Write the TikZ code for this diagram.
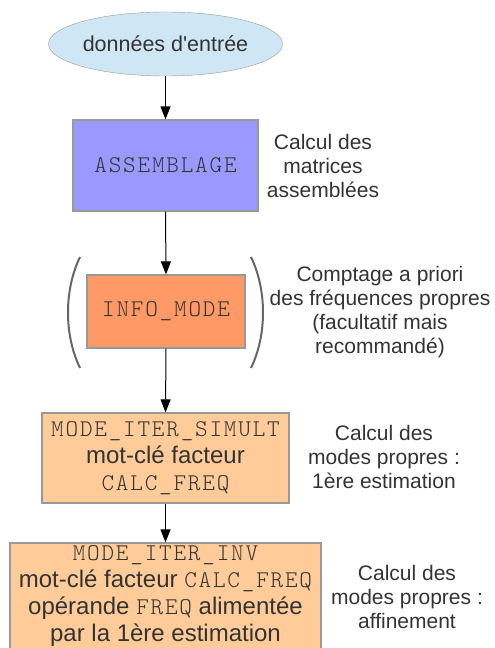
\documentclass[tikz,border=0pt]{standalone}
\usepackage{fontspec}
\setmainfont{Liberation Sans}
\newfontfamily\codefont[LetterSpace=7.5]{Latin Modern Mono Light}
\usetikzlibrary{shapes.geometric, arrows.meta}
\definecolor{inkgrey}{HTML}{333333}
\definecolor{edgegrey}{HTML}{999999}
\definecolor{entreeblue}{HTML}{CFE7F5}
\definecolor{assemblue}{HTML}{9999FF}
\definecolor{infoorange}{HTML}{FF9966}
\definecolor{modepeach}{HTML}{FFCC99}
\newcommand{\code}[1]{{\codefont #1}}

\begin{document}
\begin{tikzpicture}[x=1pt, y=-1pt,
        box/.style={draw=edgegrey, line width=1.2pt, inner sep=0pt, align=center,
                    text=inkgrey, font=\fontsize{24}{27}\selectfont},
        note/.style={align=center, text=inkgrey, font=\fontsize{21}{24}\selectfont},
        flow/.style={-{Triangle[length=13pt,width=10pt]}, line width=1pt},
        paren/.style={draw=black!60, line width=2pt}]
        \useasboundingbox (0,0) rectangle (495,648);
        \clip (0,0) rectangle (495,648);

        \node[ellipse, draw=edgegrey, fill=entreeblue, minimum width=185pt, minimum height=64pt,
              inner sep=0pt, text=inkgrey, font=\fontsize{21.5}{24}\selectfont] (entree) at (165.5,44) {données d\textquotesingle entrée};
        \node[box, fill=assemblue, minimum width=185pt, minimum height=91pt] (assemb) at (165.5,165.5) {\code{ASSEMBLAGE}};
        \node[box, fill=infoorange, minimum width=158pt, minimum height=73pt] (info) at (166,311.5) {\code{INFO\_MODE}};
        \node[box, fill=modepeach, minimum width=247pt, minimum height=90pt] (simult) at (165.5,458)
            {\code{MODE\_ITER\_SIMULT}\\mot-clé facteur\\\code{CALC\_FREQ}};
        \node[box, fill=modepeach, minimum width=311pt, minimum height=107pt] (inv) at (165.5,596.5)
            {\code{MODE\_ITER\_INV}\\mot-clé facteur \code{CALC\_FREQ}\\opérande \code{FREQ} alimentée\\par la 1ère estimation};

        \draw[flow] (entree.south) -- (assemb.north);
        \draw[flow] (assemb.south) -- (info.north);
        \draw[flow] (info.south) -- (simult.north);
        \draw[flow] (simult.south) -- (inv.north);

        \draw[paren] (80,257) .. controls (64,290) and (64,335) .. (80,368);
        \draw[paren] (251,257) .. controls (267,290) and (267,335) .. (251,368);

        \node[note] (note-assemb) at (323,166) {Calcul des\\matrices\\assemblées};
        \node[note] (note-info) at (380,312) {Comptage a priori\\des fréquences propres\\(facultatif mais\\recommandé)};
        \node[note] (note-simult) at (384,457) {Calcul des\\modes propres :\\1ère estimation};
        \node[note] (note-inv) at (407,597) {Calcul des\\modes propres :\\affinement};
\end{tikzpicture}
\end{document}
